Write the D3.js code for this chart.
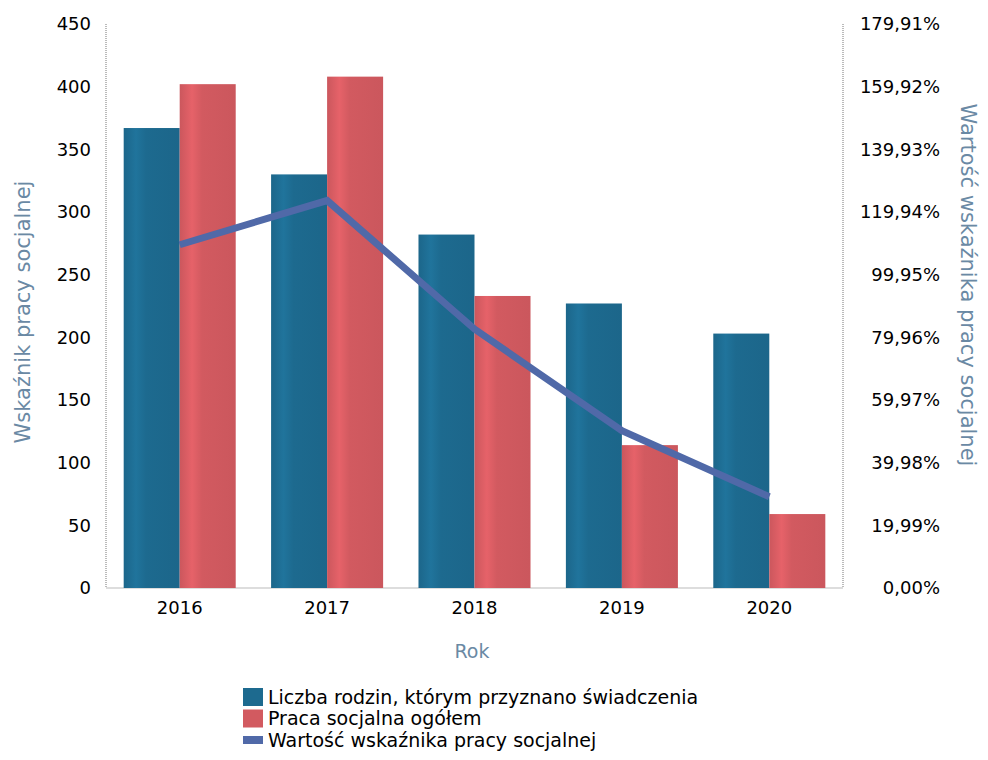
<!DOCTYPE html>
<html>
<head>
<meta charset="utf-8">
<script src="https://cdn.jsdelivr.net/npm/d3@7"></script>
<style>
  body { margin: 0; background: #fff; }
  svg text { font-family: "DejaVu Sans", sans-serif; }
</style>
</head>
<body>
<svg id="chart" width="988" height="760"></svg>
<script>
var years = ["2016", "2017", "2018", "2019", "2020"];
var families = [367, 330, 282, 227, 203];
var socialWork = [402, 408, 233, 114, 59];
var indicator = [109.5, 123.6, 82.6, 50.2, 29.1];
var leftTicks = [0, 50, 100, 150, 200, 250, 300, 350, 400, 450];
var rightTicks = ["0,00%", "19,99%", "39,98%", "59,97%", "79,96%", "99,95%", "119,94%", "139,93%", "159,92%", "179,91%"];
var seriesNames = ["Liczba rodzin, którym przyznano świadczenia", "Praca socjalna ogółem", "Wartość wskaźnika pracy socjalnej"];

function drawChart() {
    var blue = "#1d6a8f", red = "#d25a60", lineCol = "#5069a8", titleCol = "#6a89a4";

    var svg = d3.select("svg#chart");
    var pLeft = 106, pRight = 843, pTop = 24, pBottom = 588;

    var x = d3.scaleBand().domain(years).range([pLeft, pRight]).paddingInner(0.24).paddingOuter(0.12);
    var inner = d3.scaleBand().domain([0, 1]).range([0, x.bandwidth()]);
    var y = d3.scaleLinear().domain([0, 450]).range([pBottom, pTop]);
    var yR = d3.scaleLinear().domain([0, 179.91]).range([pBottom, pTop]);

    // subtle shading on the bars
    var defs = svg.append("defs");
    function grad(id, base) {
        var c = d3.color(base);
        var g = defs.append("linearGradient").attr("id", id).attr("x1", 0).attr("x2", 1).attr("y1", 0).attr("y2", 0);
        g.append("stop").attr("offset", "0%").attr("stop-color", c.darker(0.1));
        g.append("stop").attr("offset", "22%").attr("stop-color", c.brighter(0.25));
        g.append("stop").attr("offset", "40%").attr("stop-color", c);
        g.append("stop").attr("offset", "100%").attr("stop-color", c.darker(0.1));
    }
    grad("gBlue", blue);
    grad("gRed", red);

    // axis lines
    svg.append("line").attr("x1", pLeft).attr("x2", pLeft).attr("y1", pTop).attr("y2", pBottom)
        .attr("stroke", "#777").attr("stroke-dasharray", "1,1");
    svg.append("line").attr("x1", pRight).attr("x2", pRight).attr("y1", pTop).attr("y2", pBottom)
        .attr("stroke", "#777").attr("stroke-dasharray", "1,1");
    svg.append("line").attr("x1", pLeft).attr("x2", pRight).attr("y1", pBottom).attr("y2", pBottom)
        .attr("stroke", "#bbb");

    // bars
    var groups = svg.selectAll("g.year")
        .data(years)
        .enter()
        .append("g")
        .attr("class", "year")
        .attr("transform", d => "translate(" + x(d) + ",0)");

    groups.append("rect")
        .attr("x", inner(0))
        .attr("width", inner.bandwidth())
        .attr("y", (d, i) => y(families[i]))
        .attr("height", (d, i) => pBottom - y(families[i]))
        .attr("fill", "url(#gBlue)");

    groups.append("rect")
        .attr("x", inner(1))
        .attr("width", inner.bandwidth())
        .attr("y", (d, i) => y(socialWork[i]))
        .attr("height", (d, i) => pBottom - y(socialWork[i]))
        .attr("fill", "url(#gRed)");

    // indicator line
    var line = d3.line()
        .x((d, i) => x(years[i]) + x.bandwidth() / 2)
        .y(d => yR(d));

    svg.append("path")
        .datum(indicator)
        .attr("d", line)
        .attr("fill", "none")
        .attr("stroke", lineCol)
        .attr("stroke-width", 7);

    // left tick labels
    svg.selectAll("text.lt")
        .data(leftTicks)
        .enter()
        .append("text")
        .attr("class", "lt")
        .attr("x", 91)
        .attr("y", d => y(d))
        .attr("dy", "0.35em")
        .attr("text-anchor", "end")
        .attr("font-size", 18)
        .text(d => d);

    // right tick labels
    svg.selectAll("text.rt")
        .data(rightTicks)
        .enter()
        .append("text")
        .attr("class", "rt")
        .attr("x", 940)
        .attr("y", (d, i) => yR(i * 19.99))
        .attr("dy", "0.35em")
        .attr("text-anchor", "end")
        .attr("font-size", 18)
        .text(d => d);

    // x labels
    svg.selectAll("text.xt")
        .data(years)
        .enter()
        .append("text")
        .attr("class", "xt")
        .attr("x", d => x(d) + x.bandwidth() / 2)
        .attr("y", 614)
        .attr("text-anchor", "middle")
        .attr("font-size", 18)
        .text(d => d);

    // axis titles
    svg.append("text")
        .attr("transform", "translate(30,312) rotate(-90)")
        .attr("text-anchor", "middle")
        .attr("font-size", 21)
        .attr("fill", titleCol)
        .text("Wskaźnik pracy socjalnej");

    svg.append("text")
        .attr("transform", "translate(961,285) rotate(90)")
        .attr("text-anchor", "middle")
        .attr("font-size", 21)
        .attr("fill", titleCol)
        .text("Wartość wskaźnika pracy socjalnej");

    svg.append("text")
        .attr("x", 472)
        .attr("y", 658)
        .attr("text-anchor", "middle")
        .attr("font-size", 19)
        .attr("fill", titleCol)
        .text("Rok");

    // legend
    var legend = svg.selectAll("g.leg")
        .data(seriesNames)
        .enter()
        .append("g")
        .attr("class", "leg")
        .attr("transform", (d, i) => "translate(243," + (697 + i * 21.5) + ")");

    legend.append("rect")
        .attr("x", 0)
        .attr("y", (d, i) => i == 2 ? -4 : -9)
        .attr("width", 20)
        .attr("height", (d, i) => i == 2 ? 8 : 18)
        .attr("fill", (d, i) => [blue, red, lineCol][i]);

    legend.append("text")
        .attr("x", 25)
        .attr("dy", "0.35em")
        .attr("font-size", 19)
        .text(d => d);
}

drawChart();
</script>
</body>
</html>
